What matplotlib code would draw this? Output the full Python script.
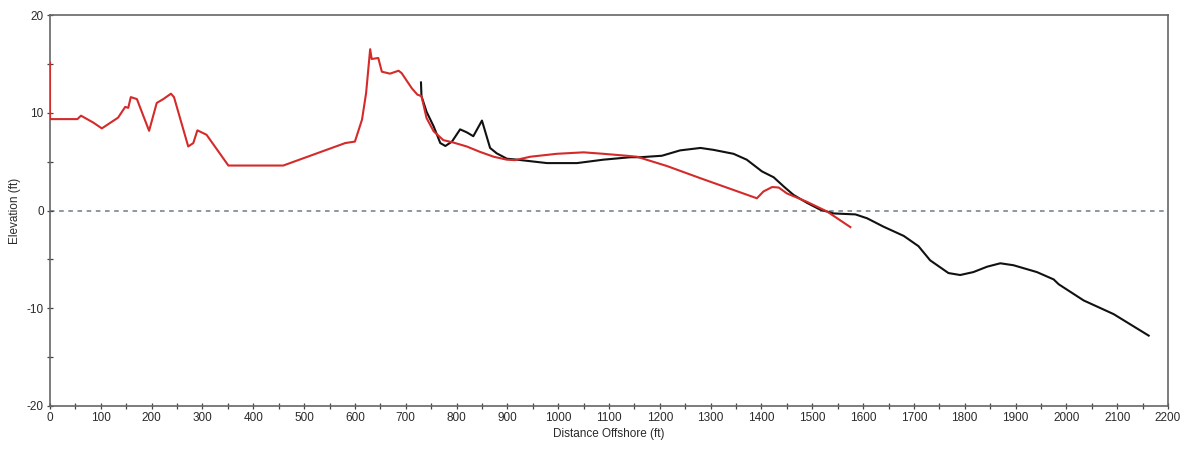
import numpy as np
import matplotlib
matplotlib.use("Agg")
import matplotlib.pyplot as plt
from matplotlib.ticker import MultipleLocator

plt.rcParams['font.family'] = ['Liberation Sans', 'DejaVu Sans']
plt.rcParams['axes.unicode_minus'] = False

# profile surveyed earlier (red)
red_dist = [0, 0, 54, 61, 85, 102, 134, 148, 154, 159, 171, 195, 210, 223, 238, 244,
            272, 282, 290, 308, 351, 459, 581, 600, 614, 622, 630, 633, 646, 653, 669,
            686, 692, 712, 723, 731, 741, 755, 774, 794, 820, 846, 873, 899, 915, 945,
            997, 1050, 1089, 1135, 1155, 1214, 1280, 1345, 1391, 1404, 1421, 1434, 1450,
            1489, 1529, 1575]
red_elev = [15.1, 9.35, 9.35, 9.7, 9.0, 8.4, 9.5, 10.6, 10.5, 11.6, 11.4, 8.15, 11.0, 11.4,
            11.95, 11.6, 6.55, 6.9, 8.2, 7.75, 4.6, 4.6, 6.9, 7.05, 9.3, 12.0, 16.5, 15.5,
            15.6, 14.2, 14.0, 14.3, 14.05, 12.5, 11.85, 11.7, 9.45, 8.1, 7.2, 6.95, 6.55,
            6.0, 5.5, 5.2, 5.15, 5.5, 5.8, 5.95, 5.8, 5.6, 5.5, 4.55, 3.3, 2.1, 1.25, 1.95,
            2.4, 2.35, 1.75, 0.9, -0.1, -1.7]

# later profile (black)
blk_dist = [730, 731, 741, 755, 768, 778, 791, 807, 820, 833, 850, 866, 879, 899, 919, 978,
            1037, 1089, 1142, 1161, 1204, 1240, 1280, 1306, 1345, 1371, 1401, 1424, 1444,
            1463, 1489, 1515, 1542, 1585, 1608, 1640, 1680, 1709, 1732, 1768, 1791, 1817,
            1844, 1870, 1896, 1942, 1975, 1985, 2034, 2093, 2162]
blk_elev = [13.1, 11.7, 10.1, 8.6, 6.9, 6.6, 7.05, 8.3, 8.0, 7.6, 9.2, 6.4, 5.85, 5.3, 5.2,
            4.85, 4.85, 5.2, 5.45, 5.45, 5.6, 6.15, 6.4, 6.2, 5.8, 5.2, 4.0, 3.4, 2.45, 1.6,
            0.8, 0.1, -0.3, -0.4, -0.8, -1.65, -2.6, -3.65, -5.1, -6.4, -6.6, -6.3, -5.75,
            -5.4, -5.6, -6.3, -7.05, -7.55, -9.2, -10.6, -12.8]

fig = plt.figure(figsize=(11.93, 4.55), dpi=100)
ax = fig.add_axes([50 / 1193, 1 - 406 / 455, 1118 / 1193, 391 / 455])

ax.axhline(0, color='#6e7a85', linestyle=(0, (3, 3)), linewidth=1.1, zorder=1)
ax.plot(blk_dist, blk_elev, color='#111111', linewidth=1.5, zorder=2)
ax.plot(red_dist, red_elev, color='#d42a2a', linewidth=1.5, zorder=3)

ax.set_xlim(0, 2200)
ax.set_ylim(-20, 20)
ax.xaxis.set_major_locator(MultipleLocator(100))
ax.xaxis.set_minor_locator(MultipleLocator(50))
ax.yaxis.set_major_locator(MultipleLocator(10))
ax.yaxis.set_minor_locator(MultipleLocator(5))
ax.tick_params(which='both', direction='inout', length=5, width=0.9, color='#444444',
               labelsize=8.5, labelcolor='#2a2a2a', pad=2)

for s in ax.spines.values():
    s.set_color('#666666')
    s.set_linewidth(1.2)

ax.set_xlabel('Distance Offshore (ft)', fontsize=8.5, color='#2a2a2a', labelpad=3)
ax.set_ylabel('Elevation (ft)', fontsize=8.5, color='#2a2a2a', labelpad=4)

fig.savefig('out.png', dpi=100, facecolor='white')
